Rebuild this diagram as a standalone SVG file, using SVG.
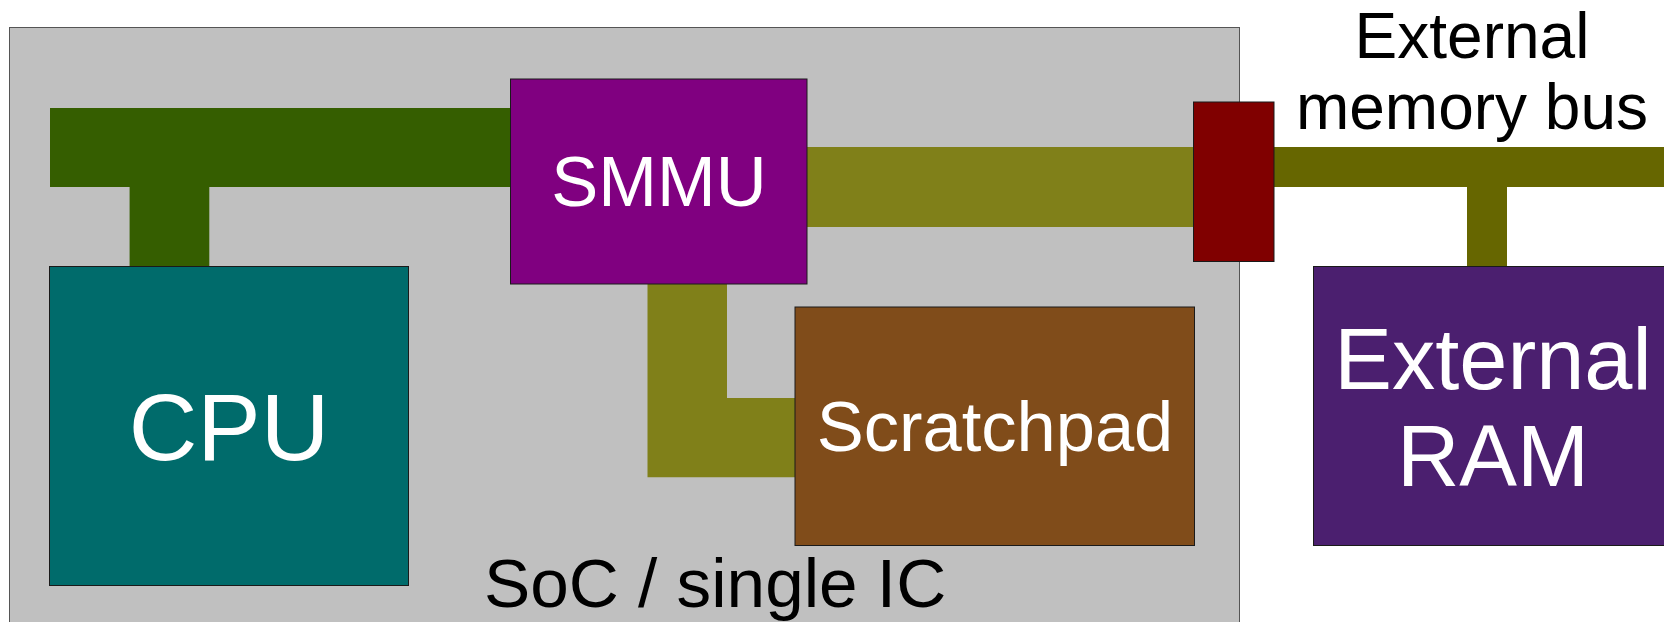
<svg xmlns="http://www.w3.org/2000/svg" width="1664" height="622" viewBox="0 0 1664 622">
  <style>
    .box { stroke: #1a1a1a; stroke-width: 1; }
    .lbl { font-family: "Liberation Sans", Arial, sans-serif; fill: #ffffff; text-anchor: middle; }
    .cap { font-family: "Liberation Sans", Arial, sans-serif; fill: #000000; }
    .bus-int { fill: #355e00; }
    .bus-mem { fill: #808019; }
    .bus-ext { fill: #666600; }
  </style>

  <rect width="1664" height="622" fill="#ffffff"/>

  <!-- SoC package outline -->
  <g id="soc">
    <rect x="9.5" y="27.5" width="1230" height="620" fill="#c0c0c0" stroke="#555555" stroke-width="1"/>
    <text class="cap" x="484" y="606.5" font-size="69.3">SoC / single IC</text>
  </g>

  <!-- bus connectors -->
  <g id="connectors">
    <!-- CPU to SMMU bus -->
    <path class="bus-int" d="M50,108 H511 V187 H209.3 V267 H129.6 V187 H50 Z"/>
    <!-- SMMU to memory controller and scratchpad -->
    <rect class="bus-mem" x="807" y="147" width="387" height="80"/>
    <path class="bus-mem" d="M647.5,284 H727 V398 H795 V477.3 H647.5 Z"/>
    <!-- external memory bus -->
    <path class="bus-ext" d="M1274,147 H1664 V187 H1507 V267 H1467 V187 H1274 Z"/>
  </g>

  <g id="cpu">
    <rect class="box" x="49.5" y="266.5" width="359" height="319" fill="#006b6b"/>
    <text class="lbl" x="229" y="460" font-size="95">CPU</text>
  </g>

  <g id="smmu">
    <rect class="box" x="510.5" y="79" width="296.5" height="205" fill="#800080"/>
    <text class="lbl" x="659" y="205.5" font-size="70.5">SMMU</text>
  </g>

  <g id="scratchpad">
    <rect class="box" x="795" y="307" width="399.5" height="238.5" fill="#804c1a"/>
    <text class="lbl" x="995" y="451" font-size="70.5">Scratchpad</text>
  </g>

  <g id="mem-port">
    <rect class="box" x="1193.5" y="102" width="80.5" height="159.5" fill="#800000"/>
  </g>

  <g id="external-ram">
    <rect class="box" x="1313.5" y="266.5" width="360" height="279" fill="#4b1f6f"/>
    <text class="lbl" x="1493" y="388.5" font-size="86.5">External</text>
    <text class="lbl" x="1493" y="485.5" font-size="86.5">RAM</text>
  </g>

  <g id="bus-label">
    <text class="cap" x="1472" y="57.5" font-size="64" text-anchor="middle">External</text>
    <text class="cap" x="1472" y="128.5" font-size="64" text-anchor="middle">memory bus</text>
  </g>
</svg>
